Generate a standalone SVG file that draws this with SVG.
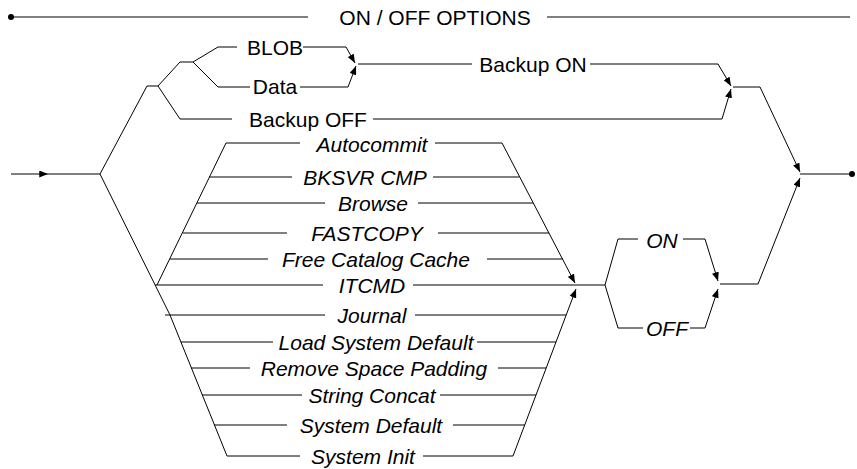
<svg xmlns="http://www.w3.org/2000/svg" width="857" height="469" viewBox="0 0 857 469">
<style>
.c{fill:none;stroke:#000;stroke-width:1}
.a{marker-end:url(#ah)}
text{font-family:"Liberation Sans",Arial,sans-serif;font-size:21px;fill:#000;text-anchor:middle}
.i{font-style:italic}
</style>
<defs>
<marker id="ah" viewBox="0 0 10 8" refX="10" refY="4" markerWidth="9" markerHeight="7" markerUnits="userSpaceOnUse" orient="auto">
<path d="M0,0 L10,4 L0,8 z" fill="#000"/>
</marker>
</defs>
<rect width="857" height="469" fill="#fff"/>
<g id="connectors">
<circle cx="11" cy="17" r="3" fill="#000"/>
<path class="c" d="M11,17 H308 M547,17 H850"/>
<path class="c a" d="M11,174 H48"/>
<path class="c" d="M48,174 H100"/>
<!-- upper branch -->
<path class="c" d="M100,174 L147,86 H158 L180,62 H193 L218,47 H237"/>
<path class="c" d="M193,62 L218,87 H250"/>
<path class="c a" d="M303,47 H346 L355,63"/>
<path class="c a" d="M300,87 H348 L356,66"/>
<path class="c" d="M358,64 H472 M590,64 H718"/>
<path class="c a" d="M718,64 L731,86"/>
<path class="c" d="M158,86 L180,119 H232"/>
<path class="c a" d="M373,119 H722 L731,89"/>
<path class="c a" d="M733,87 H760 L800,172"/>
<!-- lower branch -->
<path class="c" d="M100,174 L170,315 L227,456"/>
<path class="c" d="M157,285 L226,143"/>
<path class="c a" d="M502,143 L575,283"/>
<path class="c a" d="M513,456 L576,289"/>
<path class="c" d="M226,143 H300 M435,143 H502"/>
<path class="c" d="M209,177 H292 M433,177 H519"/>
<path class="c" d="M197,203 H325 M418,203 H533"/>
<path class="c" d="M183,233 H287 M438,233 H549"/>
<path class="c" d="M170,259 H268 M487,259 H563"/>
<path class="c" d="M155,285 H323 M413,285 H605"/>
<path class="c" d="M165,315 H325 M415,315 H566"/>
<path class="c" d="M181,342 H273 M477,342 H556"/>
<path class="c" d="M191,368 H250 M498,368 H546"/>
<path class="c" d="M202,395 H302 M440,395 H536"/>
<path class="c" d="M214,425 H287 M453,425 H525"/>
<path class="c" d="M227,456 H300 M423,456 H513"/>
<!-- ON / OFF -->
<path class="c" d="M605,285 L618,239 H638 M683,239 H705"/>
<path class="c a" d="M705,239 L718,281"/>
<path class="c" d="M605,285 L618,328 H643 M690,328 H705"/>
<path class="c a" d="M705,328 L718,289"/>
<path class="c a" d="M720,284 H758 L800,178"/>
<path class="c" d="M800,174 H849"/>
<circle cx="852" cy="174" r="3" fill="#000"/>
</g>
<g id="title"><text x="435" y="24.5">ON / OFF OPTIONS</text></g>
<g id="blob"><text x="275" y="55">BLOB</text></g>
<g id="data"><text x="275" y="94">Data</text></g>
<g id="backup-on"><text x="533" y="71.5">Backup ON</text></g>
<g id="backup-off"><text x="308" y="126.5">Backup OFF</text></g>
<g id="autocommit"><text class="i" x="372" y="151.5">Autocommit</text></g>
<g id="bksvr-cmp"><text class="i" x="365" y="185">BKSVR CMP</text></g>
<g id="browse"><text class="i" x="373" y="211">Browse</text></g>
<g id="fastcopy"><text class="i" x="367" y="241">FASTCOPY</text></g>
<g id="free-catalog-cache"><text class="i" x="376" y="267">Free Catalog Cache</text></g>
<g id="itcmd"><text class="i" x="372" y="293">ITCMD</text></g>
<g id="journal"><text class="i" x="372" y="323">Journal</text></g>
<g id="load-system-default"><text class="i" x="376" y="350">Load System Default</text></g>
<g id="remove-space-padding"><text class="i" x="374" y="376">Remove Space Padding</text></g>
<g id="string-concat"><text class="i" x="372" y="403">String Concat</text></g>
<g id="system-default"><text class="i" x="371" y="433">System Default</text></g>
<g id="system-init"><text class="i" x="363" y="464">System Init</text></g>
<g id="on"><text class="i" x="662" y="247.5">ON</text></g>
<g id="off"><text class="i" x="667" y="336">OFF</text></g>
</svg>
